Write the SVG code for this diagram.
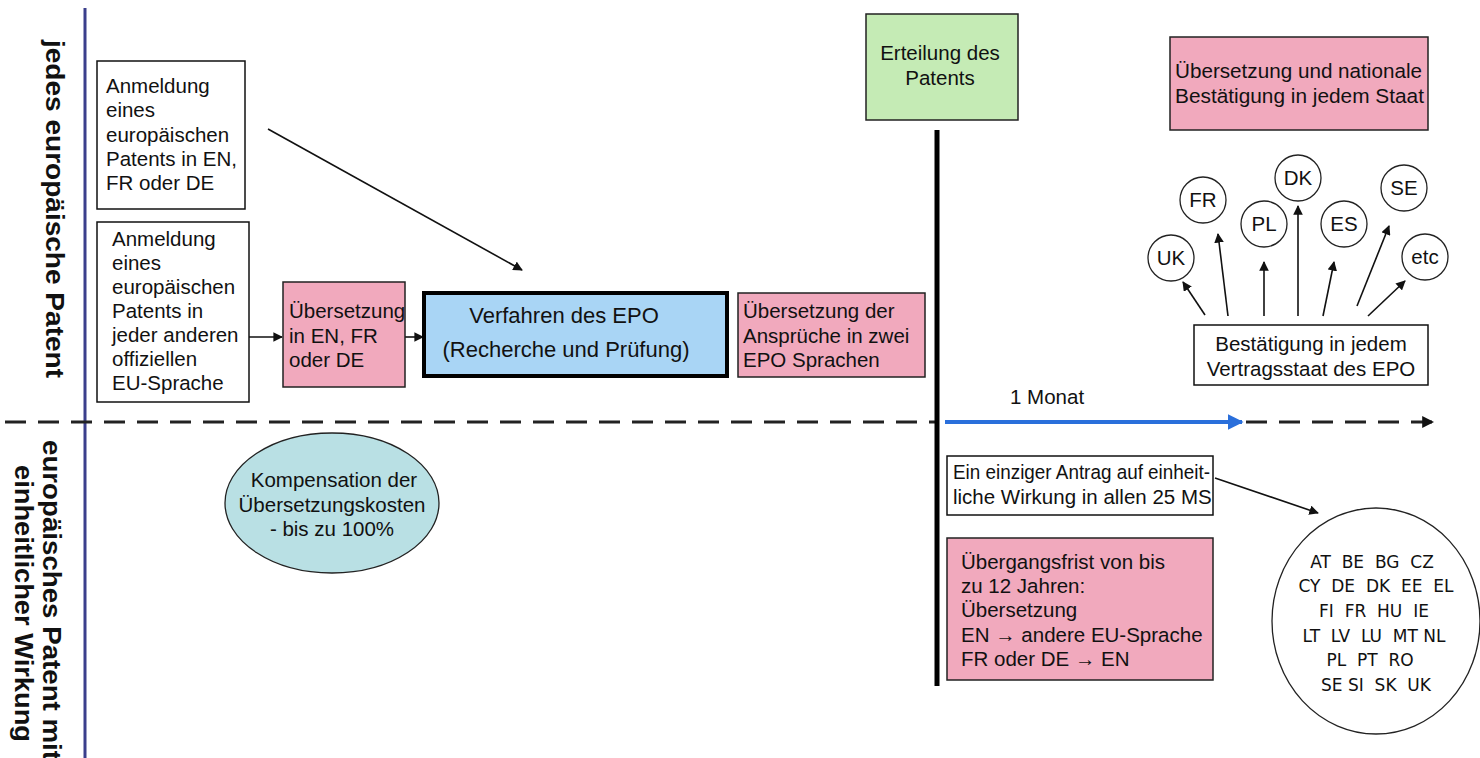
<svg xmlns="http://www.w3.org/2000/svg" width="1480" height="758" viewBox="0 0 1480 758">
<style>
  .t{font-family:"Liberation Sans",Arial,sans-serif;font-size:20.5px;fill:#111}
  .t22{font-family:"Liberation Sans",Arial,sans-serif;font-size:22px;fill:#111}
  .side{font-family:"Liberation Sans",Arial,sans-serif;font-size:26px;font-weight:bold;fill:#111}
  .cc{font-family:"DejaVu Sans",Verdana,sans-serif;font-size:17px;fill:#111;white-space:pre}
  .box{fill:#fff;stroke:#111;stroke-width:1.5}
  .pink{fill:#f1a9bd;stroke:#222;stroke-width:1.5}
  .circ{fill:#fff;stroke:#222;stroke-width:1.3}
  .ar{stroke:#111;stroke-width:1.6;fill:none;marker-end:url(#ah)}
</style>
<defs>
  <marker id="ah" viewBox="0 0 10 10" refX="9" refY="5" markerWidth="6" markerHeight="6" orient="auto" markerUnits="strokeWidth">
    <path d="M0,0 L10,5 L0,10 z" fill="#111"/>
  </marker>
  <marker id="ahb" viewBox="0 0 10 10" refX="9" refY="5" markerWidth="4" markerHeight="4" orient="auto" markerUnits="strokeWidth">
    <path d="M0,0 L10,5 L0,10 z" fill="#2a6fdb"/>
  </marker>
  <marker id="ahd" viewBox="0 0 10 10" refX="9" refY="5" markerWidth="4" markerHeight="4" orient="auto" markerUnits="strokeWidth">
    <path d="M0,0 L10,5 L0,10 z" fill="#111"/>
  </marker>
</defs>

<g id="background">
  <rect width="1480" height="758" fill="#fff"/>
</g>

<g id="labels">
  <line x1="85" y1="8" x2="85" y2="758" stroke="#3b3f8c" stroke-width="3"/>
  <text class="side" transform="translate(46,40) rotate(90)" textLength="338" lengthAdjust="spacingAndGlyphs">jedes europäische Patent</text>
  <text class="side" transform="translate(43,440) rotate(90)" textLength="320" lengthAdjust="spacingAndGlyphs">europäisches Patent mit</text>
  <text class="side" transform="translate(15,465) rotate(90)" textLength="277" lengthAdjust="spacingAndGlyphs">einheitlicher Wirkung</text>
</g>

<g id="connectors">
  <line x1="5" y1="422" x2="935" y2="422" stroke="#222" stroke-width="3" stroke-dasharray="21 12"/>
  <line x1="1246" y1="422" x2="1433" y2="422" stroke="#222" stroke-width="3" stroke-dasharray="21 12" marker-end="url(#ahd)"/>
  <line x1="945" y1="422" x2="1242" y2="422" stroke="#2a6fdb" stroke-width="4" marker-end="url(#ahb)"/>
  <line x1="937" y1="130" x2="937" y2="686" stroke="#000" stroke-width="5"/>
  <line class="ar" x1="268" y1="129" x2="522" y2="270"/>
  <line class="ar" x1="249" y1="337" x2="282" y2="337"/>
  <line class="ar" x1="405" y1="337" x2="423" y2="337"/>
  <line class="ar" x1="1205" y1="315" x2="1183" y2="282"/>
  <line class="ar" x1="1228" y1="316" x2="1218" y2="234"/>
  <line class="ar" x1="1264" y1="316" x2="1264" y2="262"/>
  <line class="ar" x1="1298" y1="316" x2="1298" y2="206"/>
  <line class="ar" x1="1323" y1="316" x2="1334" y2="262"/>
  <line class="ar" x1="1357" y1="306" x2="1389" y2="226"/>
  <line class="ar" x1="1368" y1="316" x2="1405" y2="281"/>
  <line class="ar" x1="1215" y1="478" x2="1318" y2="513"/>
</g>

<g id="anmeldung1">
  <rect class="box" x="97" y="61" width="148" height="148"/>
  <text class="t" x="106" y="93">Anmeldung</text>
  <text class="t" x="106" y="117">eines</text>
  <text class="t" x="106" y="142">europäischen</text>
  <text class="t" x="106" y="166">Patents in EN,</text>
  <text class="t" x="106" y="190">FR oder DE</text>
</g>

<g id="anmeldung2">
  <rect class="box" x="97" y="222" width="152" height="180"/>
  <text class="t" x="112" y="246">Anmeldung</text>
  <text class="t" x="112" y="270">eines</text>
  <text class="t" x="112" y="294">europäischen</text>
  <text class="t" x="112" y="318">Patents in</text>
  <text class="t" x="112" y="342">jeder anderen</text>
  <text class="t" x="112" y="366">offiziellen</text>
  <text class="t" x="112" y="390">EU-Sprache</text>
</g>

<g id="uebersetzung1">
  <rect class="pink" x="283" y="282" width="122" height="105"/>
  <text class="t" x="289" y="318">Übersetzung</text>
  <text class="t" x="289" y="343">in EN, FR</text>
  <text class="t" x="289" y="367">oder DE</text>
</g>

<g id="verfahren">
  <rect x="424" y="293" width="303" height="83" fill="#a9d5f5" stroke="#000" stroke-width="4"/>
  <text class="t22" x="564" y="323" text-anchor="middle">Verfahren des EPO</text>
  <text class="t22" x="566" y="357" text-anchor="middle">(Recherche und Prüfung)</text>
</g>

<g id="uebersetzung2">
  <rect class="pink" x="738" y="293" width="187" height="84"/>
  <text class="t" x="743" y="318">Übersetzung der</text>
  <text class="t" x="743" y="343">Ansprüche in zwei</text>
  <text class="t" x="743" y="367">EPO Sprachen</text>
</g>

<g id="erteilung">
  <rect x="866" y="14" width="152" height="106" fill="#c5ebb5" stroke="#222" stroke-width="1.5"/>
  <text class="t" x="940" y="60" text-anchor="middle">Erteilung des</text>
  <text class="t" x="940" y="85" text-anchor="middle">Patents</text>
</g>

<g id="national">
  <rect class="pink" x="1170" y="37" width="258" height="93"/>
  <text class="t" x="1175" y="78" textLength="247" lengthAdjust="spacingAndGlyphs">Übersetzung und nationale</text>
  <text class="t" x="1175" y="103" textLength="249" lengthAdjust="spacingAndGlyphs">Bestätigung in jedem Staat</text>
</g>

<g id="staaten">
  <circle class="circ" cx="1171" cy="258" r="23"/><text class="t" x="1171" y="265" text-anchor="middle" font-size="17">UK</text>
  <circle class="circ" cx="1203" cy="200" r="23"/><text class="t" x="1203" y="207" text-anchor="middle">FR</text>
  <circle class="circ" cx="1264" cy="224" r="23"/><text class="t" x="1264" y="231" text-anchor="middle">PL</text>
  <circle class="circ" cx="1298" cy="178" r="23"/><text class="t" x="1298" y="185" text-anchor="middle">DK</text>
  <circle class="circ" cx="1344" cy="224" r="23"/><text class="t" x="1344" y="231" text-anchor="middle">ES</text>
  <circle class="circ" cx="1404" cy="188" r="23"/><text class="t" x="1404" y="195" text-anchor="middle">SE</text>
  <circle class="circ" cx="1425" cy="257" r="23"/><text class="t" x="1425" y="264" text-anchor="middle">etc</text>
</g>

<g id="bestaetigung">
  <rect class="box" x="1194" y="325" width="234" height="60"/>
  <text class="t" x="1311" y="351" text-anchor="middle">Bestätigung in jedem</text>
  <text class="t" x="1311" y="376" text-anchor="middle">Vertragsstaat des EPO</text>
</g>

<g id="monat">
  <text class="t" x="1010" y="404">1 Monat</text>
</g>

<g id="antrag">
  <rect class="box" x="947" y="456" width="266" height="59"/>
  <text class="t" x="953" y="479" textLength="257" lengthAdjust="spacingAndGlyphs">Ein einziger Antrag auf einheit-</text>
  <text class="t" x="953" y="504">liche Wirkung in allen 25 MS</text>
</g>

<g id="uebergangsfrist">
  <rect class="pink" x="947" y="538" width="266" height="142"/>
  <text class="t" x="961" y="569">Übergangsfrist von bis</text>
  <text class="t" x="961" y="593">zu 12 Jahren:</text>
  <text class="t" x="961" y="617">Übersetzung</text>
  <text class="t" x="961" y="642">EN → andere EU-Sprache</text>
  <text class="t" x="961" y="666">FR oder DE → EN</text>
</g>

<g id="mitgliedstaaten">
  <ellipse cx="1376" cy="621" rx="104" ry="113" fill="#fff" stroke="#222" stroke-width="1.3"/>
  <text class="cc" x="1372" y="568" text-anchor="middle">AT  BE  BG  CZ</text>
  <text class="cc" x="1376" y="592" text-anchor="middle">CY  DE  DK  EE  EL</text>
  <text class="cc" x="1374" y="617" text-anchor="middle">FI  FR  HU  IE</text>
  <text class="cc" x="1374" y="642" text-anchor="middle">LT  LV  LU  MT NL</text>
  <text class="cc" x="1370" y="666" text-anchor="middle">PL  PT  RO</text>
  <text class="cc" x="1376" y="691" text-anchor="middle">SE SI  SK  UK</text>
</g>

<g id="kompensation">
  <ellipse cx="332" cy="503" rx="107" ry="70" fill="#b9e0e4" stroke="#222" stroke-width="1.3"/>
  <text class="t" x="334" y="487" text-anchor="middle">Kompensation der</text>
  <text class="t" x="332" y="512" text-anchor="middle">Übersetzungskosten</text>
  <text class="t" x="332" y="536" text-anchor="middle">- bis zu 100%</text>
</g>
</svg>
